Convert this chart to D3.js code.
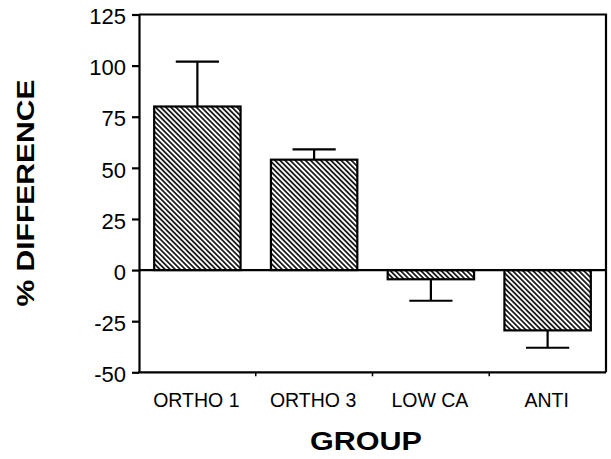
<!DOCTYPE html>
<html>
<head>
<meta charset="utf-8">
<script src="https://cdn.jsdelivr.net/npm/d3@7"></script>
<style>
  body { margin: 0; background: #fff; }
  svg text { font-family: Arial, "Liberation Sans", Helvetica, sans-serif; fill: #000; }
</style>
</head>
<body>
<div class="chart"></div>
<script>
// values
var groups = ["ORTHO 1", "ORTHO 3", "LOW CA", "ANTI"];
var meanDiff = [80, 54, -4.5, -29.5];
var errDiff = [22, 5, 10.5, 8.5];
var yTicks = [125, 100, 75, 50, 25, 0, -25, -50];

var width = 611;
var height = 459;

// plot box (note: "top" is reserved on window, so use plot* names)
var plotLeft = 139, plotRight = 606, plotTop = 14.5, plotBottom = 372.3;

var svg = d3.select('.chart').append('svg')
            .attr('width', width)
            .attr('height', height);

// hatch fill
var defs = svg.append('defs');
defs.append('pattern')
    .attr('id', 'hatch')
    .attr('patternUnits', 'userSpaceOnUse')
    .attr('width', 3.6)
    .attr('height', 3.6)
    .attr('patternTransform', 'rotate(-45)')
    .append('line')
    .attr('x1', 1.8).attr('y1', 0)
    .attr('x2', 1.8).attr('y2', 3.6)
    .attr('stroke', '#000')
    .attr('stroke-width', 1.6);

var x = d3.scaleBand()
          .domain(groups)
          .range([plotLeft, plotRight])
          .paddingInner(0.26)
          .paddingOuter(0.13);

var y = d3.scaleLinear()
          .domain([-50, 125])
          .range([plotBottom, plotTop]);

var data = groups.map(function(g, i) {
  return { group: g, value: meanDiff[i], err: errDiff[i] };
});

// bars
svg.selectAll('rect.bar').data(data).enter().append('rect')
   .attr('class', 'bar')
   .attr('x', function(d) { return x(d.group); })
   .attr('width', x.bandwidth())
   .attr('y', function(d) { return y(Math.max(0, d.value)); })
   .attr('height', function(d) { return Math.abs(y(d.value) - y(0)); })
   .attr('fill', 'url(#hatch)')
   .attr('stroke', '#000')
   .attr('stroke-width', 2.2);

// error bars (one-sided, away from zero)
var errG = svg.append('g').attr('stroke', '#000').attr('stroke-width', 2.2);
data.forEach(function(d) {
  var cx = x(d.group) + x.bandwidth() / 2;
  var end = d.value + (d.value >= 0 ? d.err : -d.err);
  errG.append('line')
      .attr('x1', cx).attr('x2', cx)
      .attr('y1', y(d.value)).attr('y2', y(end));
  errG.append('line')
      .attr('x1', cx - x.bandwidth() / 4).attr('x2', cx + x.bandwidth() / 4)
      .attr('y1', y(end)).attr('y2', y(end));
});

// zero line
svg.append('line')
   .attr('x1', plotLeft).attr('x2', plotRight)
   .attr('y1', y(0)).attr('y2', y(0))
   .attr('stroke', '#000').attr('stroke-width', 2.2);

// frame top and right
svg.append('path')
   .attr('d', 'M' + plotLeft + ',' + plotTop + 'H' + plotRight + 'V' + plotBottom)
   .attr('fill', 'none')
   .attr('stroke', '#000').attr('stroke-width', 2.2);

// y axis (plain hyphen for negatives, as printed)
var yAxis = d3.axisLeft(y)
              .tickValues(yTicks)
              .tickFormat(function(d) { return String(d); })
              .tickSize(7).tickPadding(6).tickSizeOuter(0);
var yG = svg.append('g')
            .attr('transform', 'translate(' + plotLeft + ',0)')
            .call(yAxis);
yG.select('.domain').attr('stroke-width', 2.2);
yG.selectAll('.tick line').attr('stroke-width', 2.2);
yG.selectAll('.tick text')
  .style('font-size', '22px')
  .attr('dy', '0.42em');

// x axis: line with small ticks between groups
var xG = svg.append('g');
xG.append('line')
  .attr('x1', plotLeft - 1).attr('x2', plotRight)
  .attr('y1', plotBottom).attr('y2', plotBottom)
  .attr('stroke', '#000').attr('stroke-width', 2.2);
for (var i = 1; i < groups.length; i++) {
  var tx = plotLeft + x.step() * i;
  xG.append('line')
    .attr('x1', tx).attr('x2', tx)
    .attr('y1', plotBottom).attr('y2', plotBottom + 4)
    .attr('stroke', '#000').attr('stroke-width', 1.5);
}
xG.selectAll('text.lbl').data(groups).enter().append('text')
  .attr('class', 'lbl')
  .attr('x', function(d) { return x(d) + x.bandwidth() / 2 - 1; })
  .attr('y', 406.5)
  .attr('text-anchor', 'middle')
  .style('font-size', '19.5px')
  .text(function(d) { return d; });

// axis titles
svg.append('text')
   .attr('x', 366)
   .attr('y', 450)
   .attr('text-anchor', 'middle')
   .attr('textLength', 112)
   .attr('lengthAdjust', 'spacingAndGlyphs')
   .style('font-size', '25.5px')
   .style('font-weight', 'bold')
   .text('GROUP');

svg.append('text')
   .attr('transform', 'translate(33.5,193) rotate(-90)')
   .attr('text-anchor', 'middle')
   .attr('textLength', 227)
   .attr('lengthAdjust', 'spacingAndGlyphs')
   .style('font-size', '23.5px')
   .style('font-weight', 'bold')
   .text('% DIFFERENCE');
</script>
</body>
</html>
